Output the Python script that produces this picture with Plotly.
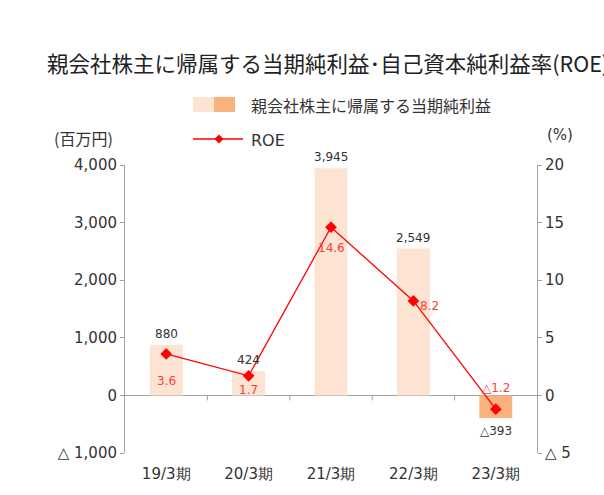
import plotly.graph_objects as go

# Fiscal periods and results
periods = ["19/3期", "20/3期", "21/3期", "22/3期", "23/3期"]
net_income = [880, 424, 3945, 2549, -393]      # 百万円
roe = [3.6, 1.7, 14.6, 8.2, -1.2]             # %

left_ticks = [-1000, 0, 1000, 2000, 3000, 4000]
left_ticktext = ["△ 1,000", "0", "1,000", "2,000", "3,000", "4,000"]
right_ticks = [-5, 0, 5, 10, 15, 20]
right_ticktext = ["△ 5", "0", "5", "10", "15", "20"]

CJK = "Noto Sans CJK JP"
NUM = "DejaVu Sans"
TEXT = "#333333"
AXIS = "#A0A0A0"
BAR_POS = "#FDE4D2"
BAR_NEG = "#F9B27D"
RED = "#FF0000"
LABEL_RED = "#FF3B3B"


def fmt(v, dec=0):
    s = f"{abs(v):,.{dec}f}"
    return ("△" + s) if v < 0 else s


x_idx = list(range(len(periods)))

fig = go.Figure()

fig.add_trace(go.Bar(
    x=x_idx, y=net_income, width=0.4,
    marker=dict(color=[BAR_NEG if v < 0 else BAR_POS for v in net_income], line_width=0),
    yaxis="y", showlegend=False, hoverinfo="skip",
))

fig.add_trace(go.Scatter(
    x=x_idx, y=roe, yaxis="y2", mode="lines+markers",
    line=dict(color=RED, width=1.3),
    marker=dict(symbol="diamond", size=9, color=RED),
    showlegend=False, hoverinfo="skip",
))

annotations = []

# bar value labels
for i, v in enumerate(net_income):
    annotations.append(dict(
        x=i, y=v, xref="x", yref="y", text=fmt(v), showarrow=False,
        yanchor="top" if v < 0 else "bottom", yshift=-4 if v < 0 else 2,
        font=dict(size=12, color=TEXT, family=NUM),
    ))

# ROE labels
roe_offsets = [(0, -27), (0, -14), (0, -21), (16, -5), (0, 21)]
for i, v in enumerate(roe):
    dx, dy = roe_offsets[i]
    annotations.append(dict(
        x=i, y=v, xref="x", yref="y2", text=fmt(v, 1), showarrow=False,
        xshift=dx, yshift=dy, font=dict(size=12, color=LABEL_RED, family=NUM),
    ))


def px(xp):
    return (xp - 125) / 412


def py(yp):
    return (453 - yp) / 288


# title, unit labels, legend texts
annotations += [
    dict(x=px(45), y=py(62), xref="paper", yref="paper",
         text="親会社株主に帰属する当期純利益･自己資本純利益率(ROE)",
         showarrow=False, xanchor="left", yanchor="middle",
         font=dict(size=21.5, color="#222222", family=CJK)),
    dict(x=px(52), y=py(138), xref="paper", yref="paper", text="(百万円)",
         showarrow=False, xanchor="left", yanchor="middle",
         font=dict(size=16, color=TEXT, family=CJK)),
    dict(x=px(545), y=py(135), xref="paper", yref="paper", text="(%)",
         showarrow=False, xanchor="left", yanchor="middle",
         font=dict(size=15, color=TEXT, family=NUM)),
    dict(x=px(249), y=py(105), xref="paper", yref="paper",
         text="親会社株主に帰属する当期純利益", showarrow=False,
         xanchor="left", yanchor="middle", font=dict(size=16, color=TEXT, family=CJK)),
    dict(x=px(249), y=py(140), xref="paper", yref="paper",
         text="ROE", showarrow=False,
         xanchor="left", yanchor="middle", font=dict(size=16, color=TEXT, family=NUM)),
]

shapes = [
    # legend swatch (two tone)
    dict(type="rect", xref="paper", yref="paper", x0=px(193), x1=px(214), y0=py(112), y1=py(97),
         fillcolor=BAR_POS, line_width=0),
    dict(type="rect", xref="paper", yref="paper", x0=px(214), x1=px(235), y0=py(112), y1=py(97),
         fillcolor=BAR_NEG, line_width=0),
    # legend line + diamond
    dict(type="line", xref="paper", yref="paper", x0=px(193), x1=px(243), y0=py(139), y1=py(139),
         line=dict(color=RED, width=1.3)),
    dict(type="path", xref="paper", yref="paper",
         path=f"M {px(219)} {py(134.5)} L {px(223.5)} {py(139)} L {px(219)} {py(143.5)} L {px(214.5)} {py(139)} Z",
         fillcolor=RED, line_width=0),
]

# category separator ticks on the zero line
for b in [0.5, 1.5, 2.5, 3.5]:
    shapes.append(dict(type="line", xref="x", yref="y", x0=b, x1=b, y0=0, y1=-5,
                       ysizemode="pixel", yanchor=0, line=dict(color=AXIS, width=1)))

fig.update_layout(
    width=604, height=495,
    margin=dict(l=125, r=67, t=165, b=42),
    paper_bgcolor="white", plot_bgcolor="white",
    font=dict(family=CJK, color=TEXT),
    xaxis=dict(range=[-0.5, 4.5], tickvals=x_idx, ticktext=periods, showline=False,
               showgrid=False, zeroline=False, ticks="", ticklabelstandoff=10,
               tickfont=dict(size=15, color=TEXT, family=NUM)),
    yaxis=dict(range=[-1000, 4000], tickvals=left_ticks, ticktext=left_ticktext,
               showgrid=False, zeroline=True, zerolinecolor=AXIS, zerolinewidth=1,
               showline=True, linecolor=AXIS, linewidth=1, ticks="outside", ticklen=4,
               tickcolor=AXIS, tickfont=dict(size=15, color=TEXT, family=NUM)),
    yaxis2=dict(range=[-5, 20], tickvals=right_ticks, ticktext=right_ticktext,
                overlaying="y", side="right", showgrid=False, zeroline=False,
                showline=True, linecolor=AXIS, linewidth=1, ticks="outside", ticklen=4,
                tickcolor=AXIS, tickfont=dict(size=15, color=TEXT, family=NUM)),
    annotations=annotations,
    shapes=shapes,
)

fig.write_html("out.html")
